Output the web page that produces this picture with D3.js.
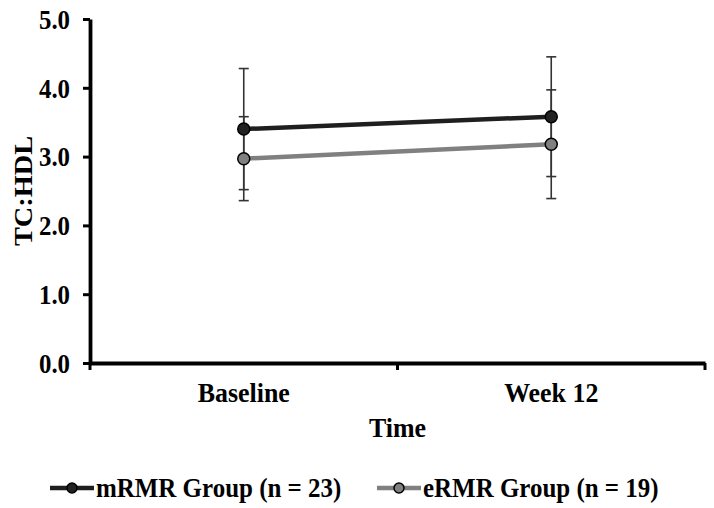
<!DOCTYPE html>
<html><head><meta charset="utf-8">
<script src="https://cdn.jsdelivr.net/npm/d3@7"></script>
<style>
html,body{margin:0;padding:0;background:#fff;}
text{font-family:"Liberation Serif","Times New Roman",serif;font-weight:bold;fill:#000;}
</style></head>
<body>
<svg id="chart" width="714" height="508"></svg>
<script>
const categories = ["Baseline", "Week 12"];
const seriesNames = ["mRMR Group (n = 23)", "eRMR Group (n = 19)"];
const mRMRValues = [3.40, 3.58];
const mRMRErrors = [0.88, 0.87];
const eRMRValues = [2.97, 3.18];
const eRMRErrors = [0.61, 0.79];
const yTicks = [0, 1, 2, 3, 4, 5];
const yLabel = "TC:HDL";
const xLabel = "Time";

const series = [
  {name: seriesNames[0], values: mRMRValues, errors: mRMRErrors, line: "#1f1f1f", fill: "#222222"},
  {name: seriesNames[1], values: eRMRValues, errors: eRMRErrors, line: "#808080", fill: "#808080"}
];

const svg = d3.select("#chart");
const mLeft = 90, mRight = 705, mTop = 19, mBottom = 363;
const SX = 1.08, SY = 1.18;

const x = d3.scaleBand().domain(categories).range([mLeft, mRight]).padding(0);
const y = d3.scaleLinear().domain([0, 5]).range([mBottom, mTop]);

// Y axis
const yAxis = svg.append("g").attr("transform", `translate(${mLeft},0)`)
  .call(d3.axisLeft(y).tickValues(yTicks).tickFormat(d3.format(".1f")).tickSizeInner(7).tickSizeOuter(0).tickPadding(12));
yAxis.select(".domain").attr("stroke", "#000").attr("stroke-width", 3.8);
yAxis.selectAll(".tick line").attr("stroke", "#000").attr("stroke-width", 3);
yAxis.selectAll(".tick text")
  .attr("x", 0).attr("dy", "0.34em")
  .attr("transform", `translate(-20,0) scale(${SX},${SY})`)
  .style("font-size", "23px").style("font-family", "Liberation Serif").style("font-weight", "bold");

// X axis
const xAxis = svg.append("g").attr("transform", `translate(0,${mBottom})`)
  .call(d3.axisBottom(x).tickSize(0));
xAxis.select(".domain").attr("stroke", "#000").attr("stroke-width", 3.8);
xAxis.selectAll(".tick text")
  .attr("y", 0).attr("dy", 0)
  .attr("transform", `translate(0,39) scale(${SX},${SY})`)
  .style("font-size", "24px").style("font-family", "Liberation Serif").style("font-weight", "bold");
// category boundary ticks
const bounds = [mLeft].concat(categories.map(c => x(c) + x.bandwidth()));
xAxis.selectAll("line.bound").data(bounds).enter().append("line")
  .attr("class", "bound").attr("x1", d => d).attr("x2", d => d)
  .attr("y1", 0).attr("y2", 7).attr("stroke", "#000").attr("stroke-width", 3);

// axis titles
svg.append("text").attr("transform", `translate(32,${(mTop + mBottom) / 2}) rotate(-90) scale(${SY},${SX})`)
  .attr("text-anchor", "middle").style("font-size", "24px").text(yLabel);
svg.append("text").attr("transform", `translate(${(mLeft + mRight) / 2},437) scale(${SX},${SY})`)
  .attr("text-anchor", "middle").style("font-size", "24px").text(xLabel);

const cx = c => x(c) + x.bandwidth() / 2;

// error bars
series.forEach(s => {
  const g = svg.append("g");
  categories.forEach((c, i) => {
    const v = s.values[i], e = s.errors[i];
    g.append("line").attr("x1", cx(c)).attr("x2", cx(c)).attr("y1", y(v + e)).attr("y2", y(v - e))
      .attr("stroke", "#333").attr("stroke-width", 1.6);
    [v + e, v - e].forEach(t => {
      g.append("line").attr("x1", cx(c) - 5).attr("x2", cx(c) + 5).attr("y1", y(t)).attr("y2", y(t))
        .attr("stroke", "#333").attr("stroke-width", 1.6);
    });
  });
});

// lines
const lineGen = d3.line().x((d, i) => cx(categories[i])).y(d => y(d));
series.slice().reverse().forEach(s => {
  svg.append("path").datum(s.values).attr("d", lineGen).attr("fill", "none")
    .attr("stroke", s.line).attr("stroke-width", 4.5);
});
// points
series.forEach(s => {
  svg.append("g").selectAll("circle").data(s.values).enter().append("circle")
    .attr("cx", (d, i) => cx(categories[i])).attr("cy", d => y(d)).attr("r", 6)
    .attr("fill", s.fill).attr("stroke", "#000").attr("stroke-width", 1.5);
});

// legend
const legendX = [50, 377];
const legendY = 488;
series.forEach((s, i) => {
  const g = svg.append("g").attr("transform", `translate(${legendX[i]},${legendY})`);
  g.append("line").attr("x1", 0).attr("x2", 44).attr("y1", 0).attr("y2", 0)
    .attr("stroke", s.line).attr("stroke-width", 4.5);
  g.append("circle").attr("cx", 22).attr("cy", 0).attr("r", 5)
    .attr("fill", s.fill).attr("stroke", "#000").attr("stroke-width", 1.5);
  g.append("text").attr("transform", `translate(46,9) scale(1.04,${SY})`).style("font-size", "24px").text(s.name);
});
</script>
</body></html>
